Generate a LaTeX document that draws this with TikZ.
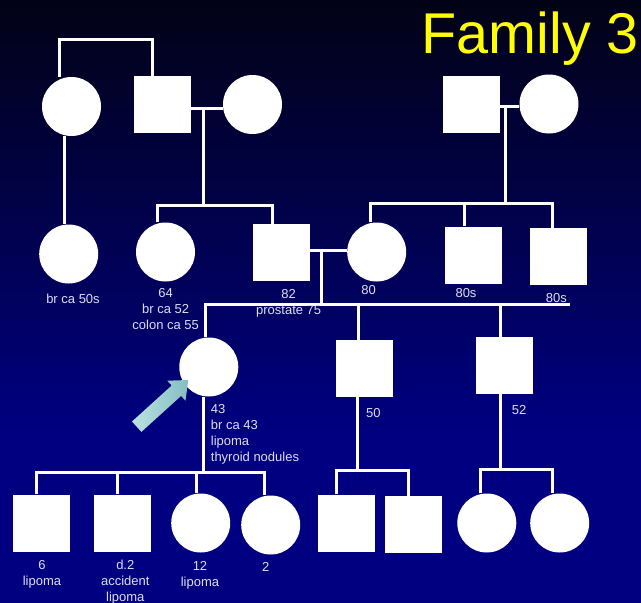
\documentclass[tikz,border=0pt]{standalone}
\usepackage{fontspec}
\setmainfont{Liberation Sans}
\definecolor{bgtop}{RGB}{2,2,22}
\definecolor{navybg}{RGB}{0,0,128}
\definecolor{notecol}{RGB}{222,222,242}
\definecolor{titlecol}{RGB}{255,255,0}
\definecolor{arrowlight}{RGB}{186,226,226}
\definecolor{arrowdark}{RGB}{132,190,192}
\begin{document}
\begin{tikzpicture}[x=1pt,y=-1pt,
  female/.style={circle,fill=white,minimum size=59pt,inner sep=0pt},
  male/.style={rectangle,fill=white,minimum size=57pt,inner sep=0pt},
  link/.style={draw=white,line width=3pt},
  % multi-line labels are placed by the baseline of their last line
  note/.style={text=notecol,font=\fontsize{13}{16}\selectfont,inner sep=0pt,align=center,anchor=base},
  notel/.style={note,align=left,anchor=base west},
]
\useasboundingbox (0,0) rectangle (641,603);
% background: dark at the top, navy from the middle down
\fill[top color=bgtop,bottom color=navybg] (0,0) rectangle (641,430);
\fill[navybg] (0,429) rectangle (641,603);

% title
\node[text=titlecol,font=\fontsize{57.5}{58}\selectfont,inner sep=0pt,anchor=base east] (title) at (639,53.3) {Family 3};

% generation I
\node[female] (gm1) at (71.5,106.5) {};
\node[male]   (gf)  at (162.5,104.5) {};
\node[female] (gm2) at (252.5,104.5) {};
\node[male]   (gf2) at (471.7,104.5) {};
\node[female] (gm3) at (549,104) {};

% generation II
\node[female] (a1) at (68.7,254) {};
\node[female] (a2) at (165.5,252) {};
\node[male]   (fa) at (281.7,252.3) {};
\node[female] (mo) at (376.7,252) {};
\node[male]   (u1) at (473.5,255) {};
\node[male]   (u2) at (558.5,256.5) {};

% generation III
\node[female] (pb) at (208.8,367) {};
\node[male]   (b1) at (364.5,368.3) {};
\node[male]   (b2) at (504.3,365.3) {};

% generation IV
\node[male]   (c1) at (41.7,523) {};
\node[male]   (c2) at (122.7,523) {};
\node[female] (c3) at (200.7,523) {};
\node[female] (c4) at (270.7,525) {};
\node[male]   (n1) at (346.5,523) {};
\node[male]   (n2) at (413.5,524.3) {};
\node[female] (n3) at (486.8,523) {};
\node[female] (n4) at (559.7,523) {};

% junction points
\coordinate (kL) at (59,39);
\coordinate (kR) at (152,39);
\coordinate (d1) at (64.3,200);
\coordinate (mj1) at (203,108);
\coordinate (s1) at (203,205.3);
\coordinate (s1L) at (157.7,205.3);
\coordinate (s1R) at (272.3,205.3);
\coordinate (mj2) at (505,106.7);
\coordinate (s2) at (505,203);
\coordinate (s2L) at (370,203);
\coordinate (s2M) at (464,203);
\coordinate (s2R) at (552.3,203);
\coordinate (mj3) at (321,250);
\coordinate (s3) at (321,304);
\coordinate (s3L) at (205,304);
\coordinate (s3M) at (358.3,304);
\coordinate (s3N) at (500.3,304);
\coordinate (s3R) at (570,304);
\coordinate (s4) at (203,472.3);
\coordinate (s4A) at (36.7,472.3);
\coordinate (s4B) at (117.3,472.3);
\coordinate (s4C) at (196.3,472.3);
\coordinate (s4D) at (264.3,472.3);
\coordinate (s5) at (357.3,470);
\coordinate (s5L) at (336.7,470);
\coordinate (s5R) at (408.3,470);
\coordinate (s6) at (500.3,469);
\coordinate (s6L) at (480,469);
\coordinate (s6R) at (552.3,469);

% connectors
\draw[link] (kL |- gm1.north) -- (kL) -- (kR) -- (kR |- gf.north);
\draw[link] (gm1.south -| d1) -- (d1 |- a1.north);
\draw[link] (gf.east |- mj1) -- (gm2.west |- mj1);
\draw[link] (mj1) -- (s1);
\draw[link] (s1L |- a2.north) -- (s1L) -- (s1R) -- (s1R |- fa.north);
\draw[link] (gf2.east |- mj2) -- (gm3.west |- mj2);
\draw[link] (mj2) -- (s2);
\draw[link] (s2L |- mo.north) -- (s2L) -- (s2R) -- (s2R |- u2.north);
\draw[link] (s2M) -- (s2M |- u1.north);
\draw[link] (fa.east |- mj3) -- (mo.west |- mj3);
\draw[link] (mj3) -- (s3);
\draw[link] (s3L |- pb.north) -- (s3L) -- (s3R);
\draw[link] (s3M) -- (s3M |- b1.north);
\draw[link] (s3N) -- (s3N |- b2.north);
\draw[link] (pb.south -| s4) -- (s4);
\draw[link] (s4A |- c1.north) -- (s4A) -- (s4D) -- (s4D |- c4.north);
\draw[link] (s4B) -- (s4B |- c2.north);
\draw[link] (s4C) -- (s4C |- c3.north);
\draw[link] (b1.south -| s5) -- (s5);
\draw[link] (s5L |- n1.north) -- (s5L) -- (s5R) -- (s5R |- n2.north);
\draw[link] (b2.south -| s6) -- (s6);
\draw[link] (s6L |- n3.north) -- (s6L) -- (s6R) -- (s6R |- n4.north);

% proband arrow
\shade[left color=arrowlight,right color=arrowdark]
  (132.0,421.5) -- (171.7,385.5) -- (167.3,380.7) -- (188.3,380.0)
  -- (185.5,400.7) -- (181.1,395.9) -- (141.4,431.9) -- cycle;

% labels
\node[note] (la1) at (73,303.7) {br ca 50s};
\node[note] (la2) at (165.7,329) {64\\br ca 52\\colon ca 55};
\node[note] (lfa) at (288.7,314.5) {82\\prostate 75};
\node[note] (lmo) at (368.7,294) {80};
\node[note] (lu1) at (466,297) {80s};
\node[note] (lu2) at (556.3,302) {80s};
\node[notel] (lpb) at (210.7,461) {43\\br ca 43\\lipoma\\thyroid nodules};
\node[note] (lb1) at (373.3,417) {50};
\node[note] (lb2) at (519,414) {52};
\node[note] (lc1) at (42,585) {6\\lipoma};
\node[note] (lc2) at (125.3,601) {d.2\\accident\\lipoma};
\node[note] (lc3) at (200,586.4) {12\\lipoma};
\node[note] (lc4) at (265.7,571.4) {2};
\end{tikzpicture}
\end{document}
